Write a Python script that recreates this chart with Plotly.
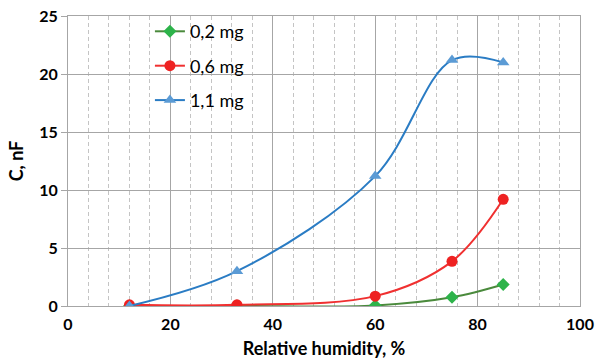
import plotly.graph_objects as go

humidity = [12, 33, 60, 75, 85]
c_02 = [0.0, 0.0, 0.05, 0.75, 1.85]
c_06 = [0.1, 0.1, 0.85, 3.85, 9.2]
c_11 = [0.0, 3.0, 11.2, 21.2, 21.0]
series_names = ["0,2 mg", "0,6 mg", "1,1 mg"]

FONT = "Lato"

fig = go.Figure()
fig.add_trace(go.Scatter(x=humidity, y=c_02, name=series_names[0], mode="lines+markers",
                         line=dict(color="#4a8a3c", width=2, shape="spline"),
                         marker=dict(symbol="diamond", size=10, color="#2db34a"),
                         legendgroup="a"))
fig.add_trace(go.Scatter(x=humidity, y=c_06, name=series_names[1], mode="lines+markers",
                         line=dict(color="#f03030", width=2, shape="spline"),
                         marker=dict(symbol="circle", size=11, color="#ee2222"),
                         legendgroup="b"))
fig.add_trace(go.Scatter(x=humidity, y=c_11, name=series_names[2], mode="lines+markers",
                         line=dict(color="#2a7cc4", width=2, shape="spline"),
                         marker=dict(symbol="triangle-up", size=11, color="#5b9bd5"),
                         legendgroup="c"))

fig.update_layout(
    width=595, height=360,
    margin=dict(l=68, r=15, t=16, b=54),
    plot_bgcolor="white", paper_bgcolor="white",
    font=dict(family=FONT, color="black"),
    legend=dict(x=0.16, y=1.01, xanchor="left", yanchor="top",
                bgcolor="rgba(255,255,255,0)", font=dict(size=18, family=FONT, color="black"),
                tracegroupgap=8, itemwidth=30),
    xaxis=dict(range=[0, 100], dtick=20, tick0=0, automargin=False,
               showgrid=True, gridcolor="#a6a6a6", gridwidth=1,
               minor=dict(dtick=4, showgrid=True, gridcolor="#c4c4c4", griddash="4px,3px", gridwidth=1),
               showline=True, linecolor="#a6a6a6", mirror=True, zeroline=False,
               ticks="", ticklabelstandoff=4, tickfont=dict(size=16, family=FONT, weight="bold"),
               title=dict(text="Relative humidity, %", font=dict(size=18, family=FONT, weight="bold"), standoff=10)),
    yaxis=dict(range=[0, 25], dtick=5, tick0=0, automargin=False,
               showgrid=True, gridcolor="#a6a6a6", gridwidth=1,
               showline=True, linecolor="#a6a6a6", mirror=True, zeroline=False,
               ticks="outside", ticklen=6, tickcolor="#a6a6a6",
               tickfont=dict(size=16, family=FONT, weight="bold"),
               title=dict(text="C, nF", font=dict(size=18, family=FONT, weight="bold"), standoff=10)),
)

fig.write_html("out.html")
